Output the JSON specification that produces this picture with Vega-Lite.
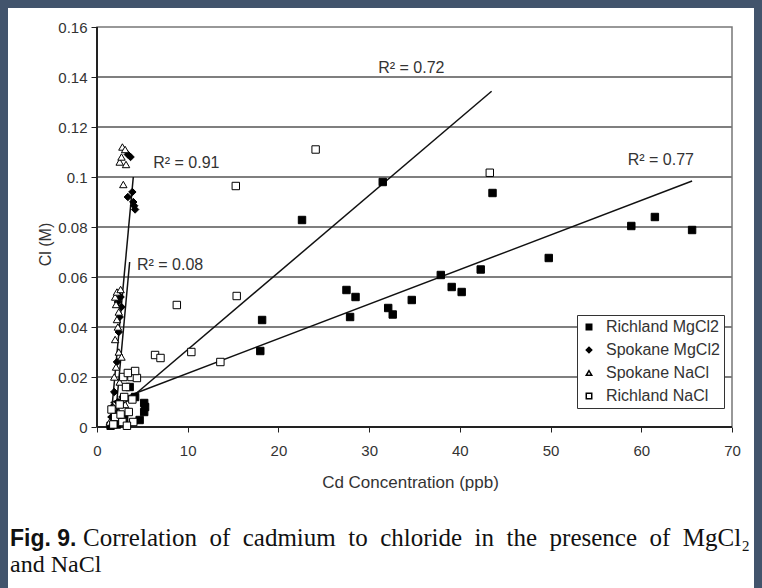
{
  "$schema": "https://vega.github.io/schema/vega-lite/v6.json",
  "width": 746,
  "height": 580,
  "autosize": "none",
  "padding": {"left": 8, "top": 8, "right": 8, "bottom": 0},
  "background": "#42546c",
  "config": {
    "view": {"stroke": null, "fill": "white"},
    "font": "Liberation Sans"
  },
  "data": {"values": [{}]},
  "datasets": {
    "pts": [
      {"series": "Richland MgCl2", "x": 1.5, "y": 0.0005},
      {"series": "Richland MgCl2", "x": 2.2, "y": 0.001},
      {"series": "Richland MgCl2", "x": 3.0, "y": 0.003},
      {"series": "Richland MgCl2", "x": 3.6, "y": 0.016},
      {"series": "Richland MgCl2", "x": 4.2, "y": 0.012},
      {"series": "Richland MgCl2", "x": 4.7, "y": 0.0028},
      {"series": "Richland MgCl2", "x": 5.2, "y": 0.006},
      {"series": "Richland MgCl2", "x": 5.2, "y": 0.0096},
      {"series": "Richland MgCl2", "x": 5.3, "y": 0.008},
      {"series": "Richland MgCl2", "x": 18.0, "y": 0.0304},
      {"series": "Richland MgCl2", "x": 18.2, "y": 0.0428},
      {"series": "Richland MgCl2", "x": 22.6, "y": 0.0828},
      {"series": "Richland MgCl2", "x": 27.5, "y": 0.0548},
      {"series": "Richland MgCl2", "x": 27.9, "y": 0.044},
      {"series": "Richland MgCl2", "x": 28.5, "y": 0.052},
      {"series": "Richland MgCl2", "x": 31.5, "y": 0.098},
      {"series": "Richland MgCl2", "x": 32.1, "y": 0.0476},
      {"series": "Richland MgCl2", "x": 32.6, "y": 0.045},
      {"series": "Richland MgCl2", "x": 34.7, "y": 0.0508},
      {"series": "Richland MgCl2", "x": 37.9, "y": 0.0608},
      {"series": "Richland MgCl2", "x": 39.1, "y": 0.056},
      {"series": "Richland MgCl2", "x": 40.2, "y": 0.054},
      {"series": "Richland MgCl2", "x": 42.3, "y": 0.063},
      {"series": "Richland MgCl2", "x": 43.6, "y": 0.0936},
      {"series": "Richland MgCl2", "x": 49.8, "y": 0.0676},
      {"series": "Richland MgCl2", "x": 58.9, "y": 0.0804},
      {"series": "Richland MgCl2", "x": 61.5, "y": 0.084},
      {"series": "Richland MgCl2", "x": 65.6, "y": 0.0788},
      {"series": "Spokane MgCl2", "x": 1.5, "y": 0.001},
      {"series": "Spokane MgCl2", "x": 1.6, "y": 0.004},
      {"series": "Spokane MgCl2", "x": 1.7, "y": 0.008},
      {"series": "Spokane MgCl2", "x": 2.0, "y": 0.002},
      {"series": "Spokane MgCl2", "x": 2.1, "y": 0.006},
      {"series": "Spokane MgCl2", "x": 2.3, "y": 0.01},
      {"series": "Spokane MgCl2", "x": 2.5, "y": 0.003},
      {"series": "Spokane MgCl2", "x": 1.9, "y": 0.014},
      {"series": "Spokane MgCl2", "x": 2.8, "y": 0.012},
      {"series": "Spokane MgCl2", "x": 2.2, "y": 0.026},
      {"series": "Spokane MgCl2", "x": 2.4, "y": 0.038},
      {"series": "Spokane MgCl2", "x": 2.5, "y": 0.044},
      {"series": "Spokane MgCl2", "x": 2.6, "y": 0.052},
      {"series": "Spokane MgCl2", "x": 2.3, "y": 0.05},
      {"series": "Spokane MgCl2", "x": 2.7, "y": 0.048},
      {"series": "Spokane MgCl2", "x": 3.4, "y": 0.109},
      {"series": "Spokane MgCl2", "x": 3.7, "y": 0.108},
      {"series": "Spokane MgCl2", "x": 3.4, "y": 0.092},
      {"series": "Spokane MgCl2", "x": 3.9, "y": 0.094},
      {"series": "Spokane MgCl2", "x": 4.0, "y": 0.09},
      {"series": "Spokane MgCl2", "x": 4.1, "y": 0.0885},
      {"series": "Spokane MgCl2", "x": 4.2, "y": 0.087},
      {"series": "Spokane NaCl", "x": 2.5, "y": 0.106},
      {"series": "Spokane NaCl", "x": 2.8, "y": 0.112},
      {"series": "Spokane NaCl", "x": 3.1, "y": 0.111},
      {"series": "Spokane NaCl", "x": 2.7, "y": 0.108},
      {"series": "Spokane NaCl", "x": 3.2, "y": 0.105},
      {"series": "Spokane NaCl", "x": 2.9, "y": 0.097},
      {"series": "Spokane NaCl", "x": 2.0, "y": 0.052},
      {"series": "Spokane NaCl", "x": 2.2, "y": 0.054},
      {"series": "Spokane NaCl", "x": 2.6, "y": 0.055},
      {"series": "Spokane NaCl", "x": 2.1, "y": 0.049},
      {"series": "Spokane NaCl", "x": 2.4, "y": 0.046},
      {"series": "Spokane NaCl", "x": 2.2, "y": 0.043},
      {"series": "Spokane NaCl", "x": 2.3, "y": 0.04},
      {"series": "Spokane NaCl", "x": 2.0, "y": 0.035},
      {"series": "Spokane NaCl", "x": 2.4, "y": 0.03},
      {"series": "Spokane NaCl", "x": 2.7, "y": 0.028},
      {"series": "Spokane NaCl", "x": 2.1, "y": 0.024},
      {"series": "Spokane NaCl", "x": 1.9, "y": 0.02},
      {"series": "Spokane NaCl", "x": 2.5, "y": 0.018},
      {"series": "Spokane NaCl", "x": 1.8, "y": 0.008},
      {"series": "Spokane NaCl", "x": 2.4, "y": 0.006},
      {"series": "Spokane NaCl", "x": 2.9, "y": 0.004},
      {"series": "Spokane NaCl", "x": 1.4, "y": 0.002},
      {"series": "Spokane NaCl", "x": 3.1, "y": 0.009},
      {"series": "Richland NaCl", "x": 15.3, "y": 0.0964},
      {"series": "Richland NaCl", "x": 24.1, "y": 0.111},
      {"series": "Richland NaCl", "x": 43.3, "y": 0.1017},
      {"series": "Richland NaCl", "x": 15.4, "y": 0.0524},
      {"series": "Richland NaCl", "x": 8.8, "y": 0.0488},
      {"series": "Richland NaCl", "x": 10.4, "y": 0.03},
      {"series": "Richland NaCl", "x": 13.6, "y": 0.026},
      {"series": "Richland NaCl", "x": 6.4, "y": 0.0288},
      {"series": "Richland NaCl", "x": 7.0, "y": 0.0276},
      {"series": "Richland NaCl", "x": 2.9, "y": 0.02},
      {"series": "Richland NaCl", "x": 3.8, "y": 0.02},
      {"series": "Richland NaCl", "x": 4.4, "y": 0.0196},
      {"series": "Richland NaCl", "x": 4.2, "y": 0.0224},
      {"series": "Richland NaCl", "x": 3.4, "y": 0.0216},
      {"series": "Richland NaCl", "x": 3.2, "y": 0.016},
      {"series": "Richland NaCl", "x": 3.0, "y": 0.012},
      {"series": "Richland NaCl", "x": 2.5, "y": 0.009},
      {"series": "Richland NaCl", "x": 3.5, "y": 0.006},
      {"series": "Richland NaCl", "x": 2.0, "y": 0.004},
      {"series": "Richland NaCl", "x": 2.8, "y": 0.002},
      {"series": "Richland NaCl", "x": 4.0, "y": 0.002},
      {"series": "Richland NaCl", "x": 3.3, "y": 0.0005},
      {"series": "Richland NaCl", "x": 1.8, "y": 0.001},
      {"series": "Richland NaCl", "x": 3.9, "y": 0.011},
      {"series": "Richland NaCl", "x": 2.6, "y": 0.005},
      {"series": "Richland NaCl", "x": 1.6, "y": 0.007}
    ],
    "fits": [
      {"fit": "A", "x": 1.45, "y": 0.0},
      {"fit": "A", "x": 4.0, "y": 0.1},
      {"fit": "B", "x": 2.0, "y": 0.003},
      {"fit": "B", "x": 3.6, "y": 0.066},
      {"fit": "C", "x": 1.2, "y": 0.0038},
      {"fit": "C", "x": 43.5, "y": 0.1343},
      {"fit": "D", "x": 1.5, "y": 0.0097},
      {"fit": "D", "x": 65.6, "y": 0.0984}
    ],
    "r2": [
      {"label": "R² = 0.91", "x": 6.2, "y": 0.1056},
      {"label": "R² = 0.08", "x": 4.4, "y": 0.065},
      {"label": "R² = 0.72", "x": 31.0, "y": 0.1436},
      {"label": "R² = 0.77", "x": 58.5, "y": 0.1068}
    ],
    "grid": [
      {"level": 0.02}, {"level": 0.04}, {"level": 0.06}, {"level": 0.08},
      {"level": 0.1}, {"level": 0.12}, {"level": 0.14}
    ]
  },
  "layer": [
    {
      "data": {"name": "grid"},
      "mark": {"type": "rule", "color": "#555", "strokeWidth": 1.5},
      "encoding": {
        "x": {"datum": 0, "type": "quantitative", "scale": {"domain": [-9.811, 72.425], "nice": false, "zero": false}},
        "x2": {"datum": 70},
        "y": {"field": "level", "type": "quantitative", "scale": {"domain": [-0.0644, 0.1676], "nice": false, "zero": false}}
      }
    },
    {
      "mark": {"type": "rect", "fill": null, "stroke": "#777", "strokeWidth": 1.5},
      "encoding": {
        "x": {"datum": 0, "type": "quantitative"},
        "x2": {"datum": 70},
        "y": {"datum": 0, "type": "quantitative"},
        "y2": {"datum": 0.16}
      }
    },
    {
      "mark": {"type": "rule", "color": "#222", "strokeWidth": 2},
      "encoding": {
        "x": {"datum": 0, "type": "quantitative"},
        "y": {"datum": 0, "type": "quantitative"},
        "y2": {"datum": 0.16}
      }
    },
    {
      "mark": {"type": "rule", "color": "#222", "strokeWidth": 2},
      "encoding": {
        "x": {"datum": 0, "type": "quantitative"},
        "x2": {"datum": 70},
        "y": {"datum": 0, "type": "quantitative"}
      }
    },
    {
      "data": {"name": "fits"},
      "mark": {"type": "line", "color": "#111", "strokeWidth": 1.5},
      "encoding": {
        "x": {"field": "x", "type": "quantitative"},
        "y": {"field": "y", "type": "quantitative"},
        "detail": {"field": "fit"}
      }
    },
    {
      "data": {"name": "pts"},
      "mark": {"type": "point", "filled": true, "stroke": "black", "strokeWidth": 1, "size": 55, "opacity": 1},
      "encoding": {
        "x": {
          "field": "x", "type": "quantitative",
          "axis": {
            "orient": "bottom", "offset": -161, "values": [0, 10, 20, 30, 40, 50, 60, 70],
            "format": "~g", "domain": false, "grid": false, "tickColor": "#222", "tickSize": 5,
            "labelFontSize": 15, "labelColor": "#333", "labelPadding": 11,
            "title": "Cd Concentration (ppb)", "titleFontSize": 17, "titleFontWeight": "normal",
            "titleColor": "#333", "titleX": 402, "titleY": 60, "titleBaseline": "alphabetic"
          }
        },
        "y": {
          "field": "y", "type": "quantitative",
          "axis": {
            "orient": "left", "offset": -89,
            "values": [0, 0.02, 0.04, 0.06, 0.08, 0.1, 0.12, 0.14, 0.16],
            "format": "~g", "domain": false, "grid": false, "tickColor": "#222", "tickSize": 6,
            "labelFontSize": 15, "labelColor": "#333", "labelPadding": 4,
            "title": "Cl (M)", "titleFontSize": 16, "titleFontWeight": "normal",
            "titleColor": "#333", "titleX": -47, "titleY": 236, "titleAngle": -90,
            "titleBaseline": "alphabetic", "titleAlign": "center"
          }
        },
        "shape": {
          "field": "series", "type": "nominal",
          "scale": {
            "domain": ["Richland MgCl2", "Spokane MgCl2", "Spokane NaCl", "Richland NaCl"],
            "range": ["square", "diamond", "triangle-up", "square"]
          },
          "legend": {
            "orient": "none", "legendX": 569, "legendY": 307, "title": null,
            "strokeColor": "#333", "fillColor": "white", "padding": 4,
            "labelFontSize": 16, "labelColor": "#333", "symbolSize": 30,
            "rowPadding": 7, "labelOffset": 9,
            "encode": {"symbols": {"update": {"stroke": {"value": "black"}, "strokeWidth": {"value": 1}}}}
          }
        },
        "fill": {
          "field": "series", "type": "nominal",
          "scale": {
            "domain": ["Richland MgCl2", "Spokane MgCl2", "Spokane NaCl", "Richland NaCl"],
            "range": ["black", "black", "white", "white"]
          },
          "legend": {
            "orient": "none", "legendX": 569, "legendY": 307, "title": null,
            "strokeColor": "#333", "fillColor": "white", "padding": 4,
            "labelFontSize": 16, "labelColor": "#333", "symbolSize": 30,
            "rowPadding": 7, "labelOffset": 9,
            "encode": {"symbols": {"update": {"stroke": {"value": "black"}, "strokeWidth": {"value": 1}}}}
          }
        }
      }
    },
    {
      "data": {"name": "r2"},
      "mark": {"type": "text", "align": "left", "baseline": "middle", "fontSize": 16, "color": "#333"},
      "encoding": {
        "x": {"field": "x", "type": "quantitative"},
        "y": {"field": "y", "type": "quantitative"},
        "text": {"field": "label"}
      }
    },
    {
      "mark": {"type": "text", "align": "left", "baseline": "alphabetic", "fontSize": 23, "fontWeight": "bold", "font": "Liberation Sans", "color": "#111"},
      "encoding": {
        "x": {"datum": -9.59, "type": "quantitative"},
        "y": {"datum": -0.0476, "type": "quantitative"},
        "text": {"value": "Fig. 9."}
      }
    },
    {
      "mark": {"type": "text", "align": "left", "baseline": "alphabetic", "fontSize": 25, "font": "Liberation Serif", "color": "#111"},
      "encoding": {
        "x": {"datum": -1.54, "type": "quantitative"},
        "y": {"datum": -0.0476, "type": "quantitative"},
        "text": {"value": "Correlation\u2002of\u2002cadmium\u2002to\u2002chloride\u2002in\u2002the\u2002presence\u2002of\u2002MgCl₂"}
      }
    },
    {
      "mark": {"type": "text", "align": "left", "baseline": "alphabetic", "fontSize": 24, "font": "Liberation Serif", "color": "#111"},
      "encoding": {
        "x": {"datum": -9.59, "type": "quantitative"},
        "y": {"datum": -0.058, "type": "quantitative"},
        "text": {"value": "and NaCl"}
      }
    }
  ]
}
